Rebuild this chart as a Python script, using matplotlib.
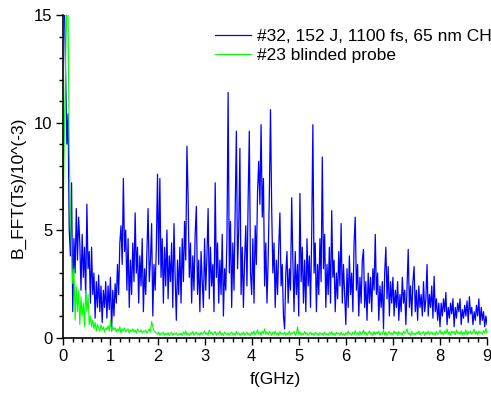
import numpy as np
import matplotlib.pyplot as plt
from matplotlib.ticker import MultipleLocator

plt.rcParams['font.family'] = ['Liberation Sans', 'DejaVu Sans']

# spectra, one value every 0.025 GHz (0 ... 9 GHz)
df = 0.025
shot32 = [
    20.0, 15.2, 12.0, 9.0, 10.4, 5.0, 3.8, 7.2, 1.2, 4.6, 3.0, 6.0, 3.6, 5.6, 4.4, 2.2, 4.8, 2.8, 4.2, 1.8,
    6.2, 3.2, 4.0, 1.6, 4.2, 2.0, 3.0, 0.9, 2.6, 1.4, 2.9, 1.2, 2.4, 0.7, 2.2, 1.4, 2.6, 0.9, 2.4, 1.3,
    2.8, 0.3, 2.2, 1.0, 2.5, 1.6, 3.4, 2.0, 4.4, 5.2, 3.4, 7.4, 4.0, 5.0, 2.2, 4.6, 1.4, 3.6, 2.0, 4.4,
    2.6, 5.8, 3.0, 4.2, 1.6, 3.8, 2.4, 4.6, 1.2, 3.2, 2.0, 4.0, 6.0, 2.6, 3.6, 5.3, 1.0, 3.4, 2.2, 4.2,
    7.6, 3.4, 7.4, 2.8, 4.6, 1.6, 4.2, 2.4, 5.0, 1.8, 3.8, 2.6, 4.4, 1.4, 5.3, 2.8, 0.8, 3.6, 2.0, 4.2,
    1.6, 4.6, 2.6, 5.4, 3.6, 8.9, 6.5, 2.8, 4.4, 1.6, 3.8, 2.2, 4.8, 6.1, 2.0, 3.6, 1.2, 4.0, 2.6, 1.4,
    4.6, 2.2, 3.8, 6.0, 1.8, 4.2, 2.4, 3.4, 1.2, 7.2, 2.8, 4.4, 1.6, 3.6, 2.0, 4.8, 1.0, 3.2, 2.2, 4.6,
    11.4, 3.0, 5.4, 1.4, 4.4, 2.2, 5.8, 9.6, 3.2, 5.0, 8.8, 2.0, 4.2, 1.4, 3.6, 5.2, 2.4, 6.4, 9.6, 3.0,
    2.0, 4.6, 1.6, 5.2, 3.4, 6.8, 8.2, 6.2, 9.9, 5.6, 7.4, 2.4, 4.4, 1.6, 3.6, 6.6, 10.6, 6.0, 3.0, 4.4,
    1.4, 3.6, 2.0, 4.2, 5.8, 2.4, 3.4, 1.0, 0.4, 3.0, 4.0, 1.6, 3.2, 2.2, 6.5, 3.6, 1.2, 4.0, 2.0, 3.4,
    1.0, 6.7, 2.6, 4.2, 1.6, 3.6, 1.2, 4.6, 2.4, 3.8, 1.4, 4.8, 9.9, 3.0, 4.4, 1.2, 3.4, 2.0, 4.6, 2.6,
    8.4, 3.2, 4.8, 1.4, 3.4, 2.0, 4.2, 1.6, 5.9, 2.8, 3.6, 1.2, 3.0, 1.8, 4.0, 2.4, 5.3, 1.6, 3.4, 2.0,
    0.6, 3.2, 1.4, 3.8, 2.0, 3.0, 1.2, 4.4, 5.6, 2.2, 3.4, 1.0, 2.8, 1.6, 3.6, 4.1, 1.4, 2.6, 0.8, 3.0,
    1.6, 2.8, 1.2, 3.2, 2.2, 4.8, 2.0, 3.0, 0.8, 2.4, 1.4, 2.6, 0.4, 3.0, 4.2, 1.8, 3.3, 1.0, 2.6, 1.6,
    2.8, 1.0, 2.2, 1.4, 2.6, 0.8, 2.0, 1.2, 2.8, 1.6, 2.2, 0.6, 2.4, 4.1, 1.4, 2.4, 1.0, 2.6, 3.3, 1.2,
    2.2, 0.8, 2.4, 1.4, 2.0, 1.0, 2.6, 1.2, 1.8, 3.4, 1.0, 2.0, 1.4, 2.4, 0.9, 2.85, 1.2, 1.8, 0.8, 1.6,
    0.5, 1.6, 1.0, 1.8, 1.2, 2.1, 0.6, 1.4, 0.9, 1.6, 1.1, 1.8, 0.5, 1.4, 0.9, 1.6, 1.2, 1.8, 0.6, 1.3,
    0.9, 1.5, 1.0, 1.7, 0.7, 1.9, 1.1, 1.4, 0.6, 1.2, 0.8, 1.5, 1.0, 1.8, 0.6, 1.4, 0.8, 1.2, 0.5, 1.0,
    0.6,
]
shot23 = [
    6.0, 10.0, 13.0, 15.5, 15.2, 8.7, 5.8, 3.8, 2.5, 3.2, 0.8, 2.4, 1.2, 2.2, 0.6, 1.9, 1.0, 1.6, 0.5, 2.2,
    1.2, 2.0, 0.6, 1.0, 0.5, 0.8, 0.4, 0.7, 0.3, 0.6, 0.45, 0.3, 0.6, 0.35, 0.5, 0.25, 0.45, 0.35, 0.55, 0.3,
    0.8, 0.3, 0.5, 0.35, 0.45, 0.25, 0.4, 0.3, 0.5, 0.2, 0.4, 0.3, 0.45, 0.25, 0.35, 0.4, 0.2, 0.35, 0.3, 0.4,
    0.25, 0.35, 0.2, 0.4, 0.3, 0.25, 0.35, 0.2, 0.3, 0.25, 0.35, 0.2, 0.3, 0.4, 0.25, 0.75, 0.5, 0.3, 0.25, 0.2,
    0.15, 0.25, 0.1, 0.2, 0.15, 0.25, 0.1, 0.2, 0.12, 0.22, 0.1, 0.18, 0.25, 0.1, 0.2, 0.15, 0.22, 0.1, 0.18, 0.12,
    0.2, 0.1, 0.25, 0.15, 0.3, 0.12, 0.2, 0.1, 0.22, 0.15, 0.28, 0.1, 0.18, 0.25, 0.12, 0.2, 0.1, 0.24, 0.15, 0.2,
    0.3, 0.15, 0.22, 0.1, 0.35, 0.18, 0.25, 0.12, 0.2, 0.28, 0.1, 0.22, 0.15, 0.3, 0.12, 0.2, 0.1, 0.25, 0.18, 0.12,
    0.22, 0.1, 0.18, 0.25, 0.12, 0.2, 0.1, 0.28, 0.15, 0.22, 0.1, 0.2, 0.14, 0.26, 0.1, 0.18, 0.24, 0.12, 0.2, 0.1,
    0.25, 0.15, 0.3, 0.12, 0.22, 0.35, 0.15, 0.25, 0.1, 0.3, 0.18, 0.4, 0.15, 0.25, 0.12, 0.28, 0.2, 0.1, 0.25, 0.15,
    0.3, 0.12, 0.22, 0.1, 0.28, 0.15, 0.2, 0.12, 0.25, 0.1, 0.2, 0.15, 0.3, 0.12, 0.22, 0.18, 0.28, 0.1, 0.2, 0.5,
    0.15, 0.25, 0.1, 0.2, 0.12, 0.28, 0.15, 0.22, 0.1, 0.18, 0.25, 0.12, 0.2, 0.1, 0.24, 0.15, 0.2, 0.1, 0.22, 0.14,
    0.2, 0.1, 0.26, 0.12, 0.18, 0.1, 0.22, 0.15, 0.28, 0.12, 0.2, 0.1, 0.24, 0.16, 0.2, 0.1, 0.25, 0.12, 0.18, 0.1,
    0.22, 0.12, 0.3, 0.15, 0.2, 0.1, 0.25, 0.14, 0.32, 0.15, 0.22, 0.1, 0.28, 0.12, 0.2, 0.35, 0.15, 0.25, 0.1, 0.2,
    0.3, 0.15, 0.22, 0.1, 0.28, 0.12, 0.25, 0.18, 0.3, 0.1, 0.22, 0.15, 0.35, 0.12, 0.25, 0.1, 0.2, 0.28, 0.15, 0.22,
    0.12, 0.3, 0.18, 0.25, 0.1, 0.28, 0.15, 0.22, 0.12, 0.3, 0.18, 0.25, 0.4, 0.15, 0.22, 0.1, 0.28, 0.15, 0.2, 0.12,
    0.25, 0.15, 0.3, 0.12, 0.22, 0.18, 0.28, 0.1, 0.25, 0.15, 0.3, 0.12, 0.2, 0.26, 0.14, 0.22, 0.1, 0.28, 0.15, 0.2,
    0.35, 0.15, 0.25, 0.12, 0.3, 0.18, 0.4, 0.15, 0.25, 0.1, 0.3, 0.2, 0.28, 0.12, 0.35, 0.18, 0.25, 0.15, 0.3, 0.12,
    0.25, 0.15, 0.35, 0.12, 0.28, 0.2, 0.3, 0.15, 0.25, 0.38, 0.15, 0.28, 0.12, 0.3, 0.2, 0.25, 0.15, 0.32, 0.2, 0.42,
    0.2,
]
labels = ['#32, 152 J, 1100 fs, 65 nm CH', '#23 blinded probe']

freq32 = np.arange(len(shot32)) * df
freq23 = np.arange(len(shot23)) * df

fig = plt.figure(figsize=(4.91, 3.98), dpi=100)
ax = fig.add_axes([0.129, 0.152, 0.863, 0.810])

ax.plot(freq32, shot32, color='#0000ff', linewidth=0.9, label=labels[0])
ax.plot(freq23, shot23, color='#00ff00', linewidth=0.8, label=labels[1])

ax.set_xlim(0, 9)
ax.set_ylim(0, 15)
ax.xaxis.set_major_locator(MultipleLocator(1))
ax.xaxis.set_minor_locator(MultipleLocator(0.2))
ax.yaxis.set_major_locator(MultipleLocator(5))
ax.yaxis.set_minor_locator(MultipleLocator(1))
ax.tick_params(which='major', length=5, width=1.0, labelsize=12, pad=3)
ax.tick_params(which='minor', length=3, width=1.0)

ax.spines['top'].set_visible(False)
ax.spines['right'].set_visible(False)
ax.spines['left'].set_linewidth(1.2)
ax.spines['bottom'].set_linewidth(1.2)

ax.set_xlabel('f(GHz)', fontsize=12.5, labelpad=6)
ax.set_ylabel('B_FFT(Ts)/10^(-3)', fontsize=12.5)
ax.yaxis.set_label_coords(-0.088, 0.467)

ax.legend(loc='upper left', bbox_to_anchor=(0.358, 0.958), frameon=False,
          fontsize=12.5, handlelength=2.1, handletextpad=0.3, labelspacing=0.26,
          borderpad=0, borderaxespad=0)

plt.savefig('out.png', dpi=100)
